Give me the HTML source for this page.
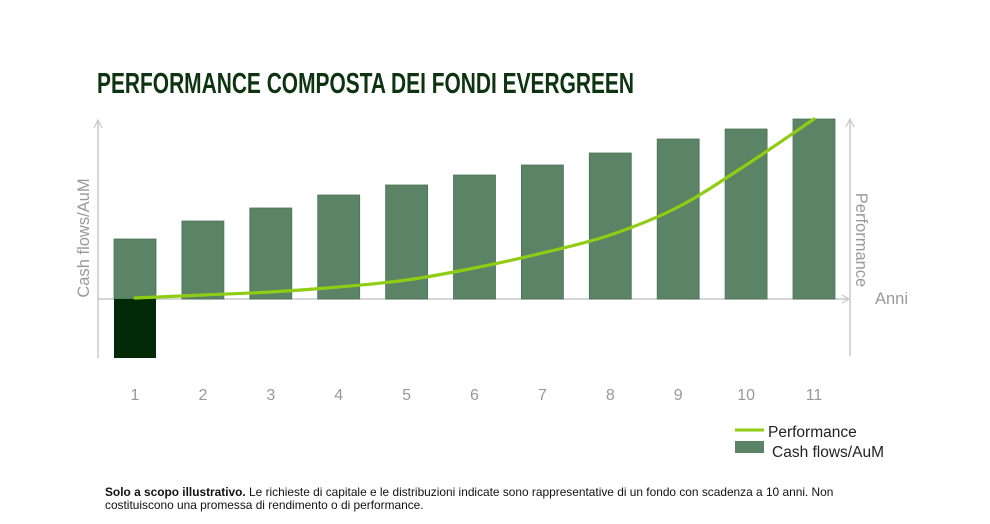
<!DOCTYPE html>
<html><head><meta charset="utf-8"><style>
body{margin:0;background:#fff;width:990px;height:524px;overflow:hidden;font-family:"Liberation Sans",sans-serif}
</style></head><body>
<svg id="c" width="990" height="524" style="position:absolute;left:0;top:0">
<text x="97" y="93" font-family="Liberation Sans Narrow, Liberation Sans, sans-serif" font-weight="bold" font-size="29" fill="#0d3311" textLength="537" lengthAdjust="spacingAndGlyphs">PERFORMANCE COMPOSTA DEI FONDI EVERGREEN</text>
<g id="axes"></g><g id="bars"></g><g id="line"></g>
<line x1="735" y1="430" x2="764" y2="430" stroke="#8fcc14" stroke-width="3"/>
<text x="768" y="437" font-size="15.5" fill="#222">Performance</text>
<rect x="735" y="441" width="29" height="12" fill="#5a8465"/>
<text x="772" y="457" font-size="15.5" fill="#222">Cash flows/AuM</text>
<text x="105" y="496" font-size="11.9" fill="#111"><tspan font-weight="bold">Solo a scopo illustrativo.</tspan> Le richieste di capitale e le distribuzioni indicate sono rappresentative di un fondo con scadenza a 10 anni. Non</text>
<text x="105" y="509" font-size="11.9" fill="#111">costituiscono una promessa di rendimento o di performance.</text>
</svg>
<script>
const years=["1","2","3","4","5","6","7","8","9","10","11"];
const cashFlows=[60,78,91,104,114,124,134,146,160,170,180];
const capitalCall=[-59,0,0,0,0,0,0,0,0,0,0];
const performance=[1,4,7,12,19,31,46,64,92,134,180];
const NS="http://www.w3.org/2000/svg";
const x0=135,step=67.9,base=299;
const xs=i=>x0+i*step;
const ys=v=>base-v;
function mk(tag,attrs,parent){const e=document.createElementNS(NS,tag);for(const k in attrs)e.setAttribute(k,attrs[k]);document.getElementById(parent).appendChild(e);return e;}
let e;
e=mk('line',{x1:98,y1:121,x2:98,y2:358,stroke:'#c8c8c8','stroke-width':1.5},'axes');


e=mk('polyline',{points:'94,128 98,120 102,128',fill:'none',stroke:'#c8c8c8','stroke-width':1.2},'axes');


e=mk('line',{x1:850,y1:119,x2:850,y2:356,stroke:'#c8c8c8','stroke-width':1.5},'axes');


e=mk('polyline',{points:'846,127 850,119 854,127',fill:'none',stroke:'#c8c8c8','stroke-width':1.2},'axes');


e=mk('line',{x1:98,y1:299,x2:848,y2:299,stroke:'#c8c8c8','stroke-width':1.5},'axes');


e=mk('polyline',{points:'842,295 849,299 842,303',fill:'none',stroke:'#c8c8c8','stroke-width':1.2},'axes');


e=mk('text',{x:89,y:238,'font-size':16.5,fill:'#999','text-anchor':'middle',transform:'rotate(-90 89 238)'},'axes');e.textContent='Cash flows/AuM';


e=mk('text',{x:856,y:240,'font-size':16.5,fill:'#999','text-anchor':'middle',transform:'rotate(90 856 240)'},'axes');e.textContent='Performance';


e=mk('text',{x:875,y:304,'font-size':16.5,fill:'#999'},'axes');e.textContent='Anni';


years.forEach((y,i)=>{
 e=mk('text',{x:xs(i),y:400,'font-size':16,fill:'#999','text-anchor':'middle'},'axes');e.textContent=y;
 
 
 const v=cashFlows[i];
 e=mk('rect',{x:xs(i)-21,y:ys(v),width:42,height:v,fill:'#5a8465',stroke:'#4d7358','stroke-width':0.8},'bars');
 
 
 const n=capitalCall[i];
 if(n<0){
  e=mk('rect',{x:xs(i)-21,y:base,width:42,height:-n,fill:'#022a07'},'bars');
  
  
 }
});
const pts=performance.map((v,i)=>[xs(i),ys(v)]);
let d='M'+pts[0][0]+','+pts[0][1];
for(let i=0;i<pts.length-1;i++){
 const p0=pts[i-1]||pts[i],p1=pts[i],p2=pts[i+1],p3=pts[i+2]||p2;
 const c1=[p1[0]+(p2[0]-p0[0])/6,p1[1]+(p2[1]-p0[1])/6],c2=[p2[0]-(p3[0]-p1[0])/6,p2[1]-(p3[1]-p1[1])/6];
 d+=` C${c1[0]},${c1[1]} ${c2[0]},${c2[1]} ${p2[0]},${p2[1]}`;
}
e=mk('path',{d:d,fill:'none',stroke:'#8fcc14','stroke-width':3.2,'stroke-linecap':'round'},'line');


</script>
</body></html>
